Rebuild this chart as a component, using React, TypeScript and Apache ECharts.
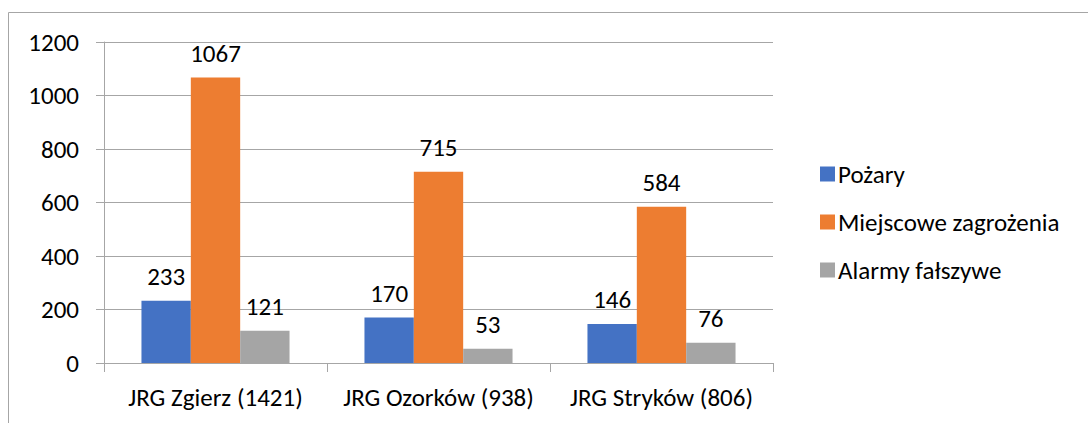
import React, { useEffect, useRef } from "react";
import * as echarts from "echarts";

const categories = ["JRG Zgierz (1421)", "JRG Ozorków (938)", "JRG Stryków (806)"];
const seriesNames = ["Pożary", "Miejscowe zagrożenia", "Alarmy fałszywe"];
const pozary = [233, 170, 146];
const miejscowe = [1067, 715, 584];
const alarmy = [121, 53, 76];
const colors = ["#4472C4", "#ED7D31", "#A5A5A5"];

const FONT = "Carlito, Calibri, Lato, sans-serif";
const FS = 25;

export default function App() {
  const ref = useRef<HTMLDivElement>(null);
  useEffect(() => {
    if (!ref.current) return;
    const chart = echarts.init(ref.current, null, { renderer: "svg" });
    const data = [pozary, miejscowe, alarmy];
    chart.setOption({
      animation: false,
      textStyle: { fontFamily: FONT },
      graphic: [
        {
          type: "rect",
          shape: { x: 8.5, y: 12.5, width: 1200, height: 500 },
          style: { fill: "none", stroke: "#A6A6A6", lineWidth: 1 },
          silent: true,
        },
      ],
      grid: { left: 104, right: 315, top: 42, bottom: 60 },
      legend: {
        orient: "vertical",
        left: 815,
        top: 155,
        itemWidth: 15,
        itemHeight: 15,
        itemGap: 20,
        icon: "rect",
        textStyle: { fontFamily: FONT, fontSize: FS, color: "#000", lineHeight: 28, padding: [0, 0, 0, -2] },
        data: seriesNames,
      },
      xAxis: {
        type: "category",
        data: categories,
        axisLine: { show: true, lineStyle: { color: "#A6A6A6" } },
        axisTick: { show: true, length: 9, lineStyle: { color: "#A6A6A6" } },
        axisLabel: { color: "#000", fontSize: FS, fontFamily: FONT, margin: 22, interval: 0 },
      },
      yAxis: {
        type: "value",
        min: 0,
        max: 1200,
        interval: 200,
        axisLine: { show: true, lineStyle: { color: "#A6A6A6" } },
        axisTick: { show: true, length: 8, lineStyle: { color: "#A6A6A6" } },
        splitLine: { show: true, lineStyle: { color: "#A6A6A6" } },
        axisLabel: {
          color: "#000",
          fontSize: FS,
          fontFamily: FONT,
          margin: 25,
          formatter: (v: number) => String(v),
        },
      },
      series: seriesNames.map((name, i) => ({
        name,
        type: "bar",
        data: data[i],
        barGap: "0%",
        barCategoryGap: "33.6%",
        itemStyle: { color: colors[i] },
        label: {
          show: true,
          position: "top",
          distance: 12,
          color: "#000",
          fontSize: FS,
          fontFamily: FONT,
        },
      })),
    });
    return () => chart.dispose();
  }, []);
  return (
    <div
      ref={ref}
      style={{ position: "fixed", left: 0, top: 0, width: 1088, height: 423, background: "#fff" }}
    />
  );
}
